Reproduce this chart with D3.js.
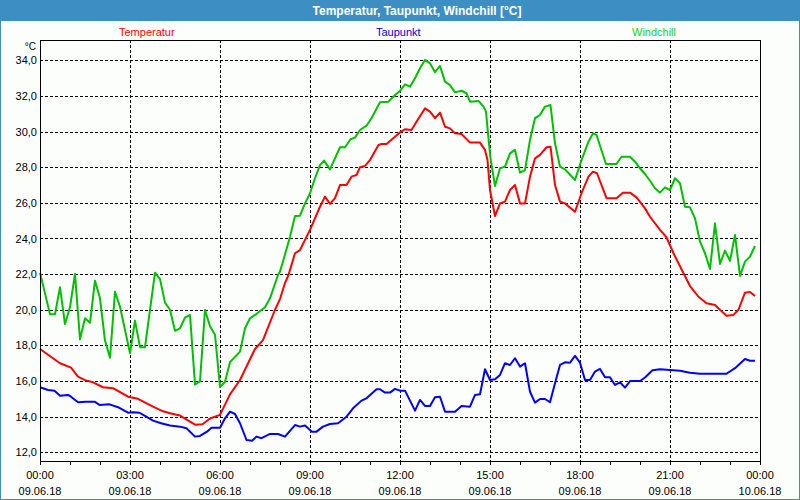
<!DOCTYPE html>
<html>
<head>
<meta charset="utf-8">
<script src="https://cdn.jsdelivr.net/npm/d3@7"></script>
<style>
  html, body { margin: 0; padding: 0; background: #ffffff; }
  svg { display: block; }
  text { font-family: "Liberation Sans", Arial, sans-serif; }
</style>
</head>
<body>
<svg id="chart" width="800" height="500"></svg>
<script>
// ---- data (minutes since 00:00 on 09.06.18, value in °C) ----
const title = "Temperatur, Taupunkt, Windchill [°C]";
const seriesNames = ["Temperatur", "Taupunkt", "Windchill"];
const unitLabel = "°C";

const yTicks = [12, 14, 16, 18, 20, 22, 24, 26, 28, 30, 32, 34];
const xTickTimes = ["00:00", "03:00", "06:00", "09:00", "12:00", "15:00", "18:00", "21:00", "00:00"];
const xTickDates = ["09.06.18", "09.06.18", "09.06.18", "09.06.18", "09.06.18", "09.06.18", "09.06.18", "09.06.18", "10.06.18"];

const temperatur = [
  [0,17.8],[40,17.0],[62,16.75],[76,16.25],[90,16.05],[106,15.93],[126,15.65],[146,15.6],
  [176,15.12],[196,15.0],[226,14.56],[246,14.3],[260,14.19],[280,14.06],[310,13.55],[325,13.57],
  [340,13.9],[360,14.1],[380,15.25],[400,16.06],[430,17.8],[446,18.3],[470,20.0],[480,20.6],
  [490,21.5],[497,21.95],[510,23.17],[520,23.35],[540,24.48],[560,25.78],[570,26.35],[580,25.94],
  [590,26.26],[600,27.0],[613,27.0],[623,27.47],[633,27.56],[640,28.0],[650,28.07],[660,28.4],
  [677,29.25],[683,29.3],[693,29.3],[710,29.71],[720,29.95],[730,30.13],[743,30.09],[753,30.55],
  [770,31.3],[780,31.12],[790,30.75],[800,31.06],[810,30.27],[820,30.18],[830,29.9],[843,29.86],
  [860,29.38],[880,29.38],[890,28.97],[895,28.4],[900,26.72],[910,25.26],[920,25.97],[930,26.07],
  [940,26.72],[950,27.0],[960,25.97],[970,25.97],[980,27.47],[990,28.5],[1000,28.69],[1013,29.12],
  [1021,29.15],[1030,27.0],[1040,26.07],[1050,25.97],[1070,25.5],[1083,26.54],[1097,27.47],[1106,27.75],
  [1114,27.66],[1133,26.26],[1153,26.26],[1166,26.57],[1180,26.57],[1193,26.31],[1210,25.69],[1220,25.22],
  [1240,24.48],[1253,24.07],[1267,23.17],[1287,22.05],[1300,21.33],[1317,20.73],[1333,20.36],[1350,20.27],
  [1360,20.0],[1373,19.67],[1387,19.71],[1397,20.0],[1410,20.96],[1420,21.0],[1430,20.77]
];

const taupunkt = [
  [0,15.65],[16,15.5],[29,15.46],[40,15.18],[56,15.22],[62,15.12],[76,14.81],[92,14.84],
  [109,14.84],[119,14.66],[139,14.69],[156,14.53],[176,14.22],[186,14.25],[199,14.22],[209,14.06],
  [226,13.78],[242,13.63],[260,13.5],[280,13.44],[293,13.35],[310,12.88],[320,12.92],[334,13.16],
  [343,13.38],[360,13.38],[370,13.91],[380,14.28],[390,14.15],[400,13.63],[413,12.69],[424,12.65],
  [433,12.88],[443,12.79],[460,13.03],[476,13.03],[490,12.88],[510,13.53],[520,13.44],[530,13.5],
  [544,13.16],[553,13.16],[566,13.44],[580,13.59],[596,13.63],[613,14.0],[626,14.47],[643,14.9],
  [653,15.03],[673,15.54],[680,15.54],[690,15.35],[700,15.35],[710,15.56],[720,15.46],[730,15.46],
  [750,14.34],[760,14.94],[770,14.6],[780,14.6],[790,15.09],[800,15.12],[810,14.28],[830,14.28],
  [843,14.6],[860,14.56],[870,15.22],[880,15.26],[890,16.66],[900,16.06],[910,16.1],[920,16.34],
  [930,17.0],[940,16.9],[950,17.28],[960,16.81],[970,17.0],[980,15.4],[990,14.79],[1000,14.99],
  [1010,14.99],[1020,14.81],[1030,15.87],[1040,16.9],[1050,17.05],[1060,17.03],[1070,17.41],[1080,17.03],
  [1090,16.06],[1100,16.06],[1110,16.53],[1120,16.68],[1130,16.21],[1140,16.21],[1150,15.78],[1160,15.93],
  [1170,15.63],[1180,16.0],[1200,16.0],[1210,16.2],[1225,16.6],[1240,16.66],[1260,16.62],[1280,16.58],
  [1300,16.47],[1320,16.41],[1373,16.41],[1390,16.72],[1410,17.24],[1420,17.14],[1430,17.14]
];

const windchill = [
  [0,22.08],[10,20.92],[20,19.75],[30,19.75],[40,21.26],[50,19.2],[60,20.14],[70,22.01],
  [80,18.34],[90,19.52],[100,19.27],[110,21.63],[120,20.64],[130,18.27],[140,17.31],[150,21.01],
  [160,20.17],[170,18.87],[180,17.56],[190,19.39],[200,17.9],[210,17.9],[220,19.99],[230,22.08],
  [240,21.72],[250,20.4],[260,20.0],[270,18.82],[280,18.96],[290,19.56],[300,19.71],[310,15.8],
  [320,15.99],[330,19.99],[340,19.07],[350,18.6],[360,15.66],[370,15.96],[380,17.06],[400,17.65],
  [410,18.96],[420,19.52],[430,19.71],[450,20.14],[460,20.64],[476,21.95],[480,22.14],[490,23.1],
  [500,24.1],[510,25.26],[520,25.28],[530,25.97],[540,26.54],[550,27.38],[560,28.12],[568,28.37],
  [580,27.88],[590,28.5],[600,29.12],[610,29.12],[621,29.57],[630,29.66],[640,30.09],[653,30.33],
  [663,30.75],[680,31.64],[697,31.68],[710,32.05],[720,32.28],[730,32.65],[740,32.52],[750,32.99],
  [760,33.55],[770,34.02],[780,33.83],[790,33.33],[800,33.68],[810,32.8],[820,32.61],[830,32.2],
  [843,32.29],[853,32.15],[860,31.68],[877,31.72],[887,31.4],[892,31.12],[896,29.9],[901,28.5],
  [910,26.95],[920,27.94],[930,28.03],[940,28.78],[950,28.97],[960,27.69],[970,27.84],[980,29.53],
  [990,30.75],[1000,30.93],[1010,31.4],[1021,31.49],[1030,29.34],[1040,28.03],[1050,27.88],[1070,27.28],
  [1083,28.4],[1097,29.43],[1106,29.9],[1113,29.81],[1132,28.18],[1153,28.18],[1163,28.59],[1180,28.59],
  [1190,28.31],[1200,27.94],[1210,27.62],[1220,27.24],[1230,26.82],[1240,26.57],[1250,26.87],[1260,26.72],
  [1270,27.38],[1280,27.1],[1290,25.78],[1300,25.75],[1310,25.13],[1320,23.82],[1330,23.17],[1340,22.29],
  [1350,24.85],[1360,22.57],[1370,23.32],[1380,22.74],[1390,24.2],[1400,21.9],[1410,22.7],[1420,22.98],
  [1430,23.58]
];

// ---- layout ----
const W = 800, H = 500;
const plot = { left: 40, right: 760, top: 40, bottom: 461 };
const svg = d3.select("#chart");

// background + frame
svg.append("rect").attr("x", 0).attr("y", 0).attr("width", W).attr("height", H).attr("fill", "#3d8fc3");
svg.append("rect").attr("x", 1).attr("y", 21).attr("width", W - 2).attr("height", H - 22).attr("fill", "#fcfefc");

// title
svg.append("text").attr("x", 417).attr("y", 14.5).attr("text-anchor", "middle")
  .attr("fill", "#ffffff").attr("font-weight", "bold").attr("font-size", "12px").text(title);

// scales
const x = d3.scaleLinear().domain([0, 1440]).range([plot.left, plot.right]);
const y = d3.scaleLinear().domain([11.512, 35.139]).range([plot.bottom, plot.top]);

const fmt = v => d3.format(".1f")(v).replace(".", ",");

// grid
const grid = svg.append("g").attr("shape-rendering", "crispEdges")
  .attr("stroke", "#000").attr("stroke-width", 1).attr("stroke-dasharray", "3,2");
grid.selectAll("line.h").data(yTicks).join("line").attr("class", "h")
  .attr("x1", plot.left).attr("x2", plot.right)
  .attr("y1", d => Math.round(y(d)) + 0.5).attr("y2", d => Math.round(y(d)) + 0.5);
const xMajor = d3.range(180, 1440, 180);
grid.selectAll("line.v").data(xMajor).join("line").attr("class", "v")
  .attr("y1", plot.top).attr("y2", plot.bottom)
  .attr("x1", d => Math.round(x(d)) + 0.5).attr("x2", d => Math.round(x(d)) + 0.5);

// y axis labels
const yAxis = d3.axisLeft(y).tickValues(yTicks).tickFormat(fmt).tickSize(0).tickPadding(3);
const yg = svg.append("g").attr("transform", `translate(${plot.left},0)`).call(yAxis);
yg.select(".domain").remove();
yg.selectAll("text").attr("font-size", "11px").attr("fill", "#000")
  .attr("font-family", "'Liberation Sans', Arial, sans-serif");

svg.append("text").attr("x", 36).attr("y", 50).attr("text-anchor", "end")
  .attr("font-size", "10px").attr("fill", "#000").text(unitLabel);

// x axis (hourly ticks)
const xAxis = d3.axisBottom(x).tickValues(d3.range(0, 1441, 60)).tickSize(4).tickFormat("");
const xg = svg.append("g").attr("transform", `translate(0,${plot.bottom})`)
  .attr("shape-rendering", "crispEdges").call(xAxis);
xg.select(".domain").remove();
xg.selectAll("line").attr("stroke", "#000");

const xLab = svg.append("g");
const labelTimes = d3.range(0, 1441, 180);
xLab.selectAll("text.t").data(labelTimes).join("text").attr("class", "t")
  .attr("x", d => x(d)).attr("y", 479).attr("text-anchor", "middle")
  .attr("font-size", "11px").attr("fill", "#000").text((d, i) => xTickTimes[i]);
xLab.selectAll("text.d").data(labelTimes).join("text").attr("class", "d")
  .attr("x", d => x(d)).attr("y", 495).attr("text-anchor", "middle")
  .attr("font-size", "11px").attr("fill", "#000").text((d, i) => xTickDates[i]);

// legend
const legendColors = ["#ff0000", "#0000dd", "#22cc22"];
const legendX = [119, 376, 632];
svg.selectAll("text.leg").data(seriesNames).join("text").attr("class", "leg")
  .attr("x", (d, i) => legendX[i]).attr("y", 36)
  .attr("font-size", "11px").attr("fill", (d, i) => legendColors[i]).text(d => d);

// lines
const line = d3.line().x(d => x(d[0])).y(d => y(d[1]));
const series = [
  { data: windchill, color: "#00c000" },
  { data: temperatur, color: "#ff0000" },
  { data: taupunkt, color: "#0000ff" }
];
svg.append("g").selectAll("path").data(series).join("path")
  .attr("d", d => line(d.data)).attr("fill", "none")
  .attr("stroke", d => d.color).attr("stroke-width", 2)
  .attr("stroke-linejoin", "round");

// plot border
svg.append("rect").attr("x", plot.left + 0.5).attr("y", plot.top + 0.5)
  .attr("width", plot.right - plot.left).attr("height", plot.bottom - plot.top)
  .attr("fill", "none").attr("stroke", "#000").attr("stroke-width", 1)
  .attr("shape-rendering", "crispEdges");
</script>
</body>
</html>
